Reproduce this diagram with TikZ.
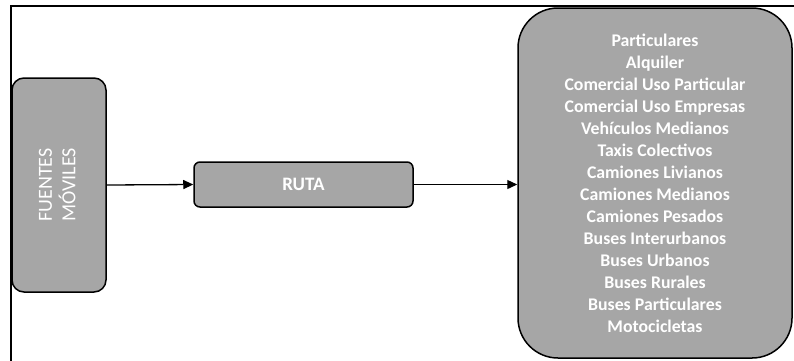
\documentclass[tikz,border=0pt]{standalone}
\usepackage{fontspec}
\setmainfont{Carlito}
\usetikzlibrary{arrows.meta}
\definecolor{boxgray}{HTML}{A6A6A6}
\begin{document}
\begin{tikzpicture}[x=1pt,y=-1pt,
  box/.style={draw=black, line width=1.5pt, fill=boxgray, text=white, inner sep=0pt, align=center},
  arr/.style={draw=black, line width=1.3pt, -{Triangle[length=10pt,width=9pt]}},
  frame/.style={draw=black, line width=2pt}]
\useasboundingbox (0,0) rectangle (794,360);
\draw[frame] (11,361) -- (11,6) -- (795,6);
\node[box, rounded corners=12pt, minimum width=94pt, minimum height=214pt] (fm) at (59,185)
  {\rotatebox{90}{\fontsize{20}{23}\selectfont\begin{tabular}{@{}c@{}}FUENTES\\MÓVILES\end{tabular}}};
\node[box, rounded corners=6pt, minimum width=219pt, minimum height=45pt, font=\fontsize{19}{23}\selectfont\bfseries] (ruta) at (303.5,184.5) {RUTA};
\node[box, rounded corners=40pt, minimum width=274pt, minimum height=350pt, font=\fontsize{17.8}{22}\selectfont\bfseries] (cat) at (655,183)
  {Particulares\\Alquiler\\Comercial Uso Particular\\Comercial Uso Empresas\\Vehículos Medianos\\Taxis Colectivos\\Camiones Livianos\\Camiones Medianos\\Camiones Pesados\\Buses Interurbanos\\Buses Urbanos\\Buses Rurales\\Buses Particulares\\Motocicletas};
\draw[arr] (fm.east) -- (ruta.west);
\draw[arr] (ruta.east) -- (ruta.east -| cat.west);
\end{tikzpicture}
\end{document}
